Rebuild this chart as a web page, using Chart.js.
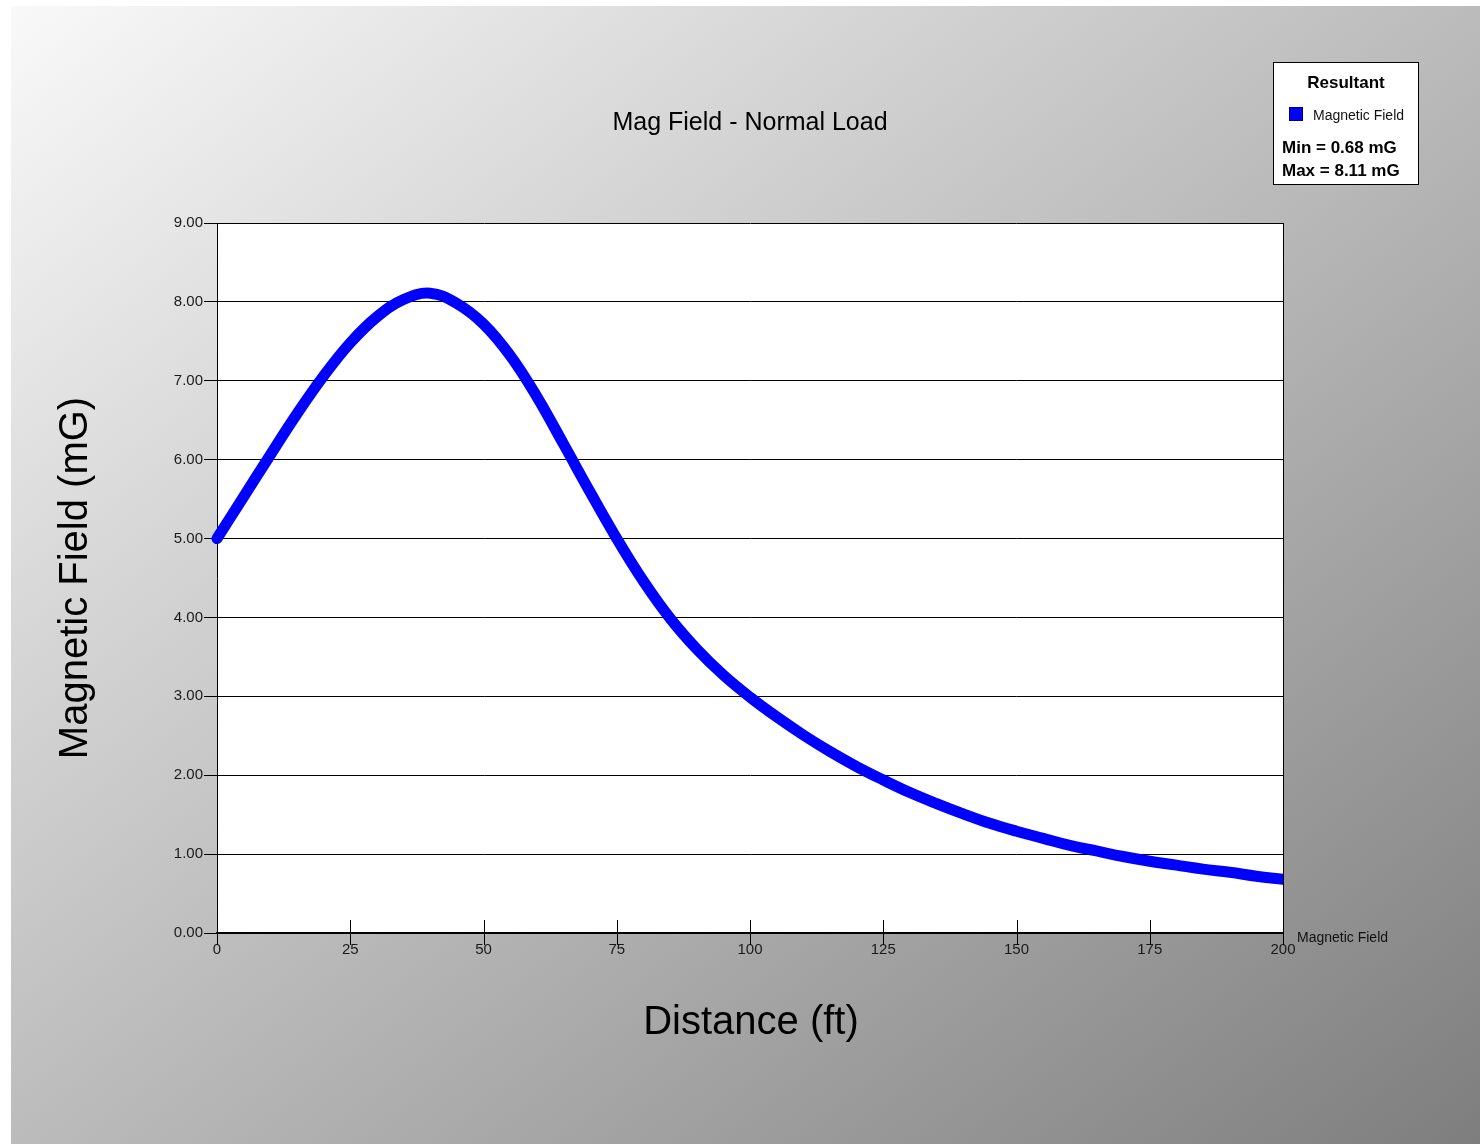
<!DOCTYPE html>
<html>
<head>
<meta charset="utf-8">
<script src="https://cdn.jsdelivr.net/npm/chart.js@4.4.1/dist/chart.umd.min.js"></script>
<style>
  html, body { margin: 0; padding: 0; background: #ffffff; }
  #bg { position: absolute; left: 11px; top: 6px; width: 1469px; height: 1138px;
        background: linear-gradient(to bottom right, #f9f9f9, #7e7e7e); }
  #c { position: absolute; left: 0; top: 0; }
</style>
</head>
<body>
<div id="bg"></div>
<canvas id="c" width="1480" height="1144"></canvas>
<script>
const chartTitle = 'Mag Field - Normal Load';
const xTitle = 'Distance (ft)';
const yTitle = 'Magnetic Field (mG)';
const legendTitle = 'Resultant';
const seriesName = 'Magnetic Field';
const unit = 'mG';

const distances = [0, 5, 10, 15, 20, 25, 30, 35, 40, 45, 50, 55, 60, 65, 70, 75, 80, 85, 90, 95,
  100, 105, 110, 115, 120, 125, 130, 135, 140, 145, 150, 155, 160, 165, 170, 175, 180, 185, 190, 195, 200];
const fieldValues = [5.00, 5.53, 6.06, 6.58, 7.06, 7.48, 7.81, 8.03, 8.11, 7.98, 7.72, 7.32, 6.80, 6.20,
  5.59, 5.00, 4.46, 3.99, 3.60, 3.27, 2.99, 2.74, 2.51, 2.30, 2.11, 1.94, 1.78, 1.64, 1.51, 1.39, 1.29,
  1.20, 1.11, 1.04, 0.97, 0.91, 0.86, 0.81, 0.77, 0.72, 0.68];
const xTicks = [0, 25, 50, 75, 100, 125, 150, 175, 200];
const yTicks = [0, 1, 2, 3, 4, 5, 6, 7, 8, 9];

const FONT = "'Liberation Sans', Arial, sans-serif";

const decor = {
  id: 'decor',
  beforeDraw(chart) {
    const {ctx, chartArea: a} = chart;
    ctx.save();
    ctx.fillStyle = '#ffffff';
    ctx.fillRect(a.left, a.top, a.right - a.left, a.bottom - a.top);
    ctx.restore();
  },
  afterDraw(chart) {
    const {ctx, chartArea: a, scales} = chart;
    ctx.save();
    ctx.strokeStyle = '#000';
    ctx.lineWidth = 1;
    ctx.beginPath();
    ctx.moveTo(Math.round(a.right) + 0.5, a.top);
    ctx.lineTo(Math.round(a.right) + 0.5, a.bottom);
    ctx.stroke();
    xTicks.forEach(v => {
      const px = Math.round(scales.x.getPixelForValue(v)) + 0.5;
      ctx.beginPath();
      ctx.moveTo(px, a.bottom - 13);
      ctx.lineTo(px, a.bottom + 12);
      ctx.stroke();
    });
    ctx.fillStyle = '#000';
    ctx.font = '25px ' + FONT;
    ctx.textAlign = 'center';
    ctx.textBaseline = 'alphabetic';
    ctx.fillText(chartTitle, (a.left + a.right) / 2, 130);
    ctx.font = '40px ' + FONT;
    ctx.fillText(xTitle, (a.left + a.right) / 2 + 1, 1034);
    ctx.save();
    ctx.translate(87, (a.top + a.bottom) / 2);
    ctx.rotate(-Math.PI / 2);
    ctx.font = '40px ' + FONT;
    ctx.fillText(yTitle, 0, 0);
    ctx.restore();
    ctx.textAlign = 'left';
    ctx.font = '14px ' + FONT;
    ctx.fillStyle = '#111';
    ctx.fillText(chart.data.datasets[0].label, a.right + 14, 942);
    const vals = chart.data.datasets[0].data.map(p => p.y);
    const mn = Math.min(...vals), mx = Math.max(...vals);
    ctx.fillStyle = '#ffffff';
    ctx.fillRect(1273, 62, 146, 123);
    ctx.strokeStyle = '#000';
    ctx.lineWidth = 1;
    ctx.strokeRect(1273.5, 62.5, 145, 122);
    ctx.fillStyle = '#000';
    ctx.font = 'bold 17px ' + FONT;
    ctx.textAlign = 'center';
    ctx.fillText(legendTitle, 1346, 88);
    ctx.fillStyle = '#0000ff';
    ctx.fillRect(1289, 107, 14, 14);
    ctx.strokeStyle = '#00007a';
    ctx.strokeRect(1289.5, 107.5, 13, 13);
    ctx.fillStyle = '#111';
    ctx.font = '14px ' + FONT;
    ctx.textAlign = 'left';
    ctx.fillText(chart.data.datasets[0].label, 1313, 120);
    ctx.fillStyle = '#000';
    ctx.font = 'bold 17px ' + FONT;
    ctx.fillText('Min = ' + mn.toFixed(2) + ' ' + unit, 1282, 153);
    ctx.fillText('Max = ' + mx.toFixed(2) + ' ' + unit, 1282, 176);
    ctx.restore();
  }
};

new Chart(document.getElementById('c'), {
  type: 'line',
  data: {
    datasets: [{
      label: seriesName,
      data: distances.map((x, i) => ({x: x, y: fieldValues[i]})),
      borderColor: '#0000ff',
      backgroundColor: '#0000ff',
      borderWidth: 11,
      pointRadius: 0,
      tension: 0.4,
      borderCapStyle: 'round',
      borderJoinStyle: 'round',
      clip: {left: 8, top: 8, right: 0, bottom: 0}
    }]
  },
  options: {
    responsive: false,
    animation: false,
    devicePixelRatio: 1,
    layout: {padding: {top: 223, right: 197, left: 0, bottom: 0}},
    plugins: {legend: {display: false}, tooltip: {enabled: false}, title: {display: false}},
    scales: {
      x: {
        type: 'linear', min: 0, max: 200,
        afterBuildTicks: s => { s.ticks = xTicks.map(v => ({value: v})); },
        afterFit: s => { s.height = 211; },
        grid: {drawOnChartArea: false, drawTicks: true, tickLength: 8, tickColor: 'rgba(0,0,0,0)'},
        border: {color: '#000', width: 2},
        ticks: {padding: 0, color: '#1a1a1a', font: {family: FONT, size: 15}, maxRotation: 0, autoSkip: false}
      },
      y: {
        type: 'linear', min: 0, max: 9,
        afterBuildTicks: s => { s.ticks = yTicks.map(v => ({value: v})); },
        afterFit: s => { s.width = 217; },
        grid: {color: '#000', lineWidth: 1, tickLength: 13, tickColor: '#000'},
        border: {color: '#000', width: 1},
        ticks: {padding: 1, color: '#1a1a1a', font: {family: FONT, size: 15}, callback: v => Number(v).toFixed(2)}
      }
    }
  },
  plugins: [decor]
});
</script>
</body>
</html>
